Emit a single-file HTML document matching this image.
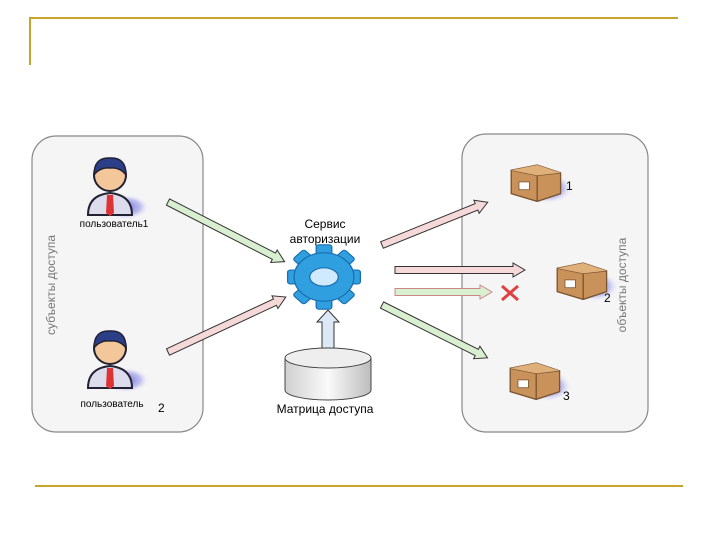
<!DOCTYPE html>
<html><head><meta charset="utf-8"><style>
html,body{margin:0;padding:0;background:#fff;}
svg{display:block;font-family:"Liberation Sans",sans-serif;}
</style></head><body>
<svg width="720" height="540" viewBox="0 0 720 540">
<defs>
<radialGradient id="sh"><stop offset="0" stop-color="#6a6ad8"/><stop offset="0.6" stop-color="#9a9ae8" stop-opacity="0.6"/><stop offset="1" stop-color="#fff" stop-opacity="0"/></radialGradient>
<linearGradient id="cyl" x1="0" x2="1"><stop offset="0" stop-color="#d0d0d0"/><stop offset="0.5" stop-color="#fafafa"/><stop offset="1" stop-color="#bdbdbd"/></linearGradient>
<g id="person">
<ellipse cx="16" cy="36" rx="24" ry="13" fill="url(#sh)"/>
<path d="M-22,44 Q-22,24 0,22 Q22,24 22,44 Z" fill="#dcdcec" stroke="#223" stroke-width="2"/>
<path d="M-3,24 L3,24 L4,42 L0,45 L-4,42 Z" fill="#d33"/>
<circle cx="0" cy="4" r="16" fill="#f3c79a" stroke="#223" stroke-width="2"/>
<path d="M-16,4 Q-16,-14 0,-13 Q16,-14 16,4 Q10,-4 0,-3 Q-10,-4 -16,4 Z" fill="#2b3f88" stroke="#223" stroke-width="1.5"/>
</g>
<g id="box">
<ellipse cx="12" cy="8" rx="20" ry="12" fill="url(#sh)"/>
<path d="M-16,-6 L4,-10 L22,-4 L22,12 L4,18 L-16,12 Z" fill="#c8925a" stroke="#7a5330" stroke-width="1"/>
<path d="M-16,-6 L4,-2 L4,18" fill="none" stroke="#7a5330" stroke-width="1"/>
<path d="M4,-2 L22,-4" stroke="#7a5330" stroke-width="1"/>
<path d="M-16,-6 L4,-10 L22,-4 L4,-2 Z" fill="#e0b07a"/>
<rect x="-10" y="3" width="8" height="6" fill="#fff" stroke="#7a5330" stroke-width="0.6"/>
</g>
</defs>
<path d="M30,65 L30,18 L678,18" fill="none" stroke="#c9a42a" stroke-width="2"/>
<line x1="35" y1="486" x2="683" y2="486" stroke="#c9a42a" stroke-width="2"/>
<rect x="32" y="136" width="171" height="296" rx="24" fill="#f5f5f5" stroke="#888" stroke-width="1.2"/>
<rect x="462" y="134" width="186" height="298" rx="24" fill="#f5f5f5" stroke="#888" stroke-width="1.2"/>
<text transform="translate(55,285) rotate(-90)" text-anchor="middle" font-size="12" fill="#777">субъекты доступа</text>
<text transform="translate(626,285) rotate(-90)" text-anchor="middle" font-size="12" fill="#777">объекты доступа</text>
<use href="#person" x="110" y="171"/>
<use href="#person" x="110" y="344"/>
<text x="114" y="227" text-anchor="middle" font-size="10">пользователь1</text>
<text x="112" y="407" text-anchor="middle" font-size="10">пользователь</text>
<text x="158" y="412" font-size="12">2</text>
<use href="#box" transform="translate(532,178) scale(1.3)"/>
<use href="#box" transform="translate(578,276) scale(1.3)"/>
<use href="#box" transform="translate(531,376) scale(1.3)"/>
<text x="566" y="190" font-size="12">1</text>
<text x="604" y="302" font-size="12">2</text>
<text x="563" y="400" font-size="12">3</text>
<g stroke="#333" stroke-width="1" stroke-linejoin="miter">
<polygon transform="translate(168,202) rotate(27.1)" points="0,-3.5 119,-3.5 119,-7 131,0 119,7 119,3.5 0,3.5" fill="#d8f0d0"/>
<polygon transform="translate(168,352) rotate(-25)" points="0,-3.5 118,-3.5 118,-7 130,0 118,7 118,3.5 0,3.5" fill="#f5d8d8"/>
<polygon transform="translate(328,355) rotate(-90)" points="0,-6 33,-6 33,-11 45,0 33,11 33,6 0,6" fill="#dce8f5"/>
<polygon transform="translate(382,245) rotate(-22)" points="0,-3.5 102,-3.5 102,-7 114,0 102,7 102,3.5 0,3.5" fill="#f5d8d8"/>
<polygon transform="translate(395,270)" points="0,-3.5 118,-3.5 118,-7 130,0 118,7 118,3.5 0,3.5" fill="#f5d8d8"/>
<polygon transform="translate(395,292)" points="0,-3.5 85,-3.5 85,-7 97,0 85,7 85,3.5 0,3.5" fill="#d8f0d0" stroke="#c88"/>
<polygon transform="translate(382,305) rotate(26.6)" points="0,-3.5 106,-3.5 106,-7 118,0 106,7 106,3.5 0,3.5" fill="#d8f0d0"/>
</g>
<path d="M502,286 L518,300 M518,286 L502,300" stroke="#e04040" stroke-width="3"/>
<g transform="translate(324,277) scale(1.3,1.15)">
<g fill="#2f9fe0" stroke="#1a6fb0" stroke-width="1">
<rect x="-6" y="-28" width="12" height="56" rx="2"/>
<rect x="-6" y="-28" width="12" height="56" rx="2" transform="rotate(45)"/>
<rect x="-6" y="-28" width="12" height="56" rx="2" transform="rotate(90)"/>
<rect x="-6" y="-28" width="12" height="56" rx="2" transform="rotate(135)"/>
<ellipse cx="0" cy="0" rx="23" ry="21"/>
</g>
<ellipse cx="0" cy="0" rx="11" ry="8" fill="#cfeaff" stroke="#1a6fb0"/>
</g>
<text x="325" y="228" text-anchor="middle" font-size="12">Сервис</text>
<text x="325" y="243" text-anchor="middle" font-size="12">авторизации</text>
<path d="M285,358 L285,390 A43,10 0 0 0 371,390 L371,358" fill="url(#cyl)" stroke="#444"/>
<ellipse cx="328" cy="358" rx="43" ry="10" fill="#eee" stroke="#444"/>
<text x="325" y="413" text-anchor="middle" font-size="12">Матрица доступа</text>
</svg>
</body></html>
